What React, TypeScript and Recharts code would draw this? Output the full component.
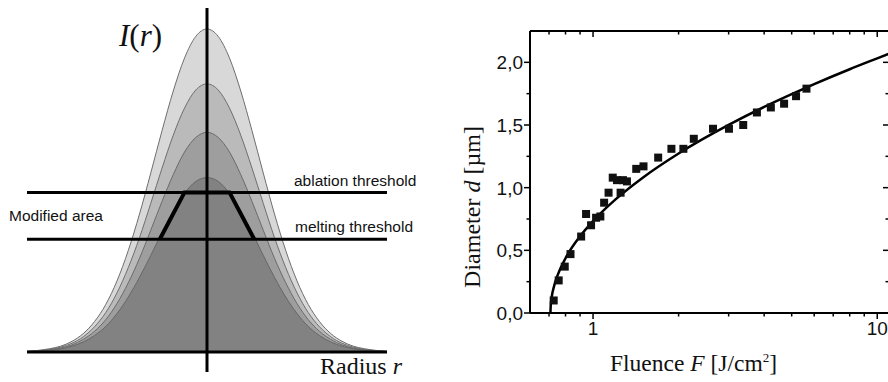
import React from 'react';
import { ComposedChart, Area, Line, Scatter, XAxis, YAxis, ReferenceLine } from 'recharts';

// left panel: Gaussian pulse profiles I(r) (peak of the largest = 1)
const radius = [
  -1.6, -1.5, -1.4, -1.3, -1.2, -1.1, -1.0, -0.9, -0.8, -0.7, -0.6, -0.5, -0.4, -0.3, -0.2, -0.1,
  0, 0.1, 0.2, 0.3, 0.4, 0.5, 0.6, 0.7, 0.8, 0.9, 1.0, 1.1, 1.2, 1.3, 1.4, 1.5, 1.6,
];
const pulse1 = [
  0.002, 0.005, 0.01, 0.018, 0.033, 0.057, 0.094, 0.147, 0.22, 0.314, 0.427, 0.554, 0.685, 0.808, 0.91, 0.977,
  1.0, 0.977, 0.91, 0.808, 0.685, 0.554, 0.427, 0.314, 0.22, 0.147, 0.094, 0.057, 0.033, 0.018, 0.01, 0.005, 0.002,
];
const pulse2 = [
  0.002, 0.004, 0.008, 0.015, 0.027, 0.047, 0.078, 0.122, 0.183, 0.261, 0.354, 0.46, 0.569, 0.671, 0.755, 0.811,
  0.83, 0.811, 0.755, 0.671, 0.569, 0.46, 0.354, 0.261, 0.183, 0.122, 0.078, 0.047, 0.027, 0.015, 0.008, 0.004, 0.002,
];
const pulse3 = [
  0.001, 0.003, 0.007, 0.012, 0.022, 0.039, 0.064, 0.1, 0.15, 0.214, 0.29, 0.377, 0.466, 0.549, 0.619, 0.664,
  0.68, 0.664, 0.619, 0.549, 0.466, 0.377, 0.29, 0.214, 0.15, 0.1, 0.064, 0.039, 0.022, 0.012, 0.007, 0.003, 0.001,
];
const pulse4 = [
  0.001, 0.003, 0.005, 0.01, 0.018, 0.031, 0.051, 0.079, 0.119, 0.17, 0.231, 0.299, 0.37, 0.436, 0.491, 0.528,
  0.54, 0.528, 0.491, 0.436, 0.37, 0.299, 0.231, 0.17, 0.119, 0.079, 0.051, 0.031, 0.018, 0.01, 0.005, 0.003, 0.001,
];
const ablationLevel = 0.494;
const meltingLevel = 0.349;
const modifiedR = [-0.42, -0.2, 0.2, 0.42];
const modifiedI = [0.349, 0.494, 0.494, 0.349];

// right panel: crater diameter vs fluence
const fluence = [
  0.727, 0.757, 0.795, 0.833, 0.908, 0.945, 0.984, 1.025, 1.061, 1.094, 1.134, 1.173, 1.214, 1.25, 1.274,
  1.316, 1.419, 1.505, 1.695, 1.887, 2.079, 2.262, 2.643, 3.008, 3.376, 3.772, 4.223, 4.702, 5.18, 5.636,
];
const diameter = [
  0.1, 0.26, 0.37, 0.47, 0.61, 0.79, 0.7, 0.76, 0.77, 0.88, 0.96, 1.08, 1.06, 0.96, 1.06,
  1.05, 1.15, 1.17, 1.24, 1.31, 1.31, 1.39, 1.47, 1.47, 1.5, 1.6, 1.64, 1.67, 1.73, 1.79,
];
const fitFluence = [0.708, 0.71, 0.715, 0.73, 0.75, 0.8, 0.9, 1.0, 1.2, 1.5, 2, 3, 4, 5, 6, 8, 10, 11];
const fitDiameter = [0, 0.066, 0.124, 0.218, 0.3, 0.437, 0.612, 0.734, 0.907, 1.082, 1.273, 1.501, 1.644, 1.746, 1.826, 1.945, 2.032, 2.069];
const fluenceTicks = [0.7, 0.8, 0.9, 1, 2, 3, 4, 5, 6, 7, 8, 9, 10];
const fluenceLabels = [1, 10];
const diameterTicks = [0, 0.25, 0.5, 0.75, 1, 1.25, 1.5, 1.75, 2];
const diameterLabels = [0, 0.5, 1, 1.5, 2];

const pulseRows = radius.map((r, i) => ({ r, p1: pulse1[i], p2: pulse2[i], p3: pulse3[i], p4: pulse4[i] }));
const modifiedRows = modifiedR.map((r, i) => ({ r, i: modifiedI[i] }));
const pointRows = fluence.map((f, i) => ({ f, d: diameter[i] }));
const fitRows = fitFluence.map((f, i) => ({ f, d: fitDiameter[i] }));

const sans = '"Liberation Sans", Arial, sans-serif';
const serif = '"Liberation Serif", "Times New Roman", serif';

function FluenceTick(props: any) {
  const { x, y, payload, showLabel } = props;
  const major = fluenceLabels.includes(payload.value);
  const len = major ? 6 : 3.5;
  return (
    <g>
      <line x1={x} x2={x} y1={y} y2={y + len} stroke="#000" strokeWidth={1.5} />
      {showLabel && major && (
        <text x={x} y={y + 22} textAnchor="middle" fontFamily={sans} fontSize={19} fill="#111">
          {payload.value}
        </text>
      )}
    </g>
  );
}

function DiameterTick(props: any) {
  const { x, y, payload, showLabel } = props;
  const major = diameterLabels.includes(payload.value);
  const len = major ? 6 : 3.5;
  return (
    <g>
      <line x1={x - len} x2={x} y1={y} y2={y} stroke="#000" strokeWidth={1.5} />
      {showLabel && major && (
        <text x={x - 7} y={y + 7} textAnchor="end" fontFamily={sans} fontSize={19} fill="#111">
          {payload.value.toFixed(1).replace('.', ',')}
        </text>
      )}
    </g>
  );
}

const Square = (props: any) => {
  const { cx, cy } = props;
  return <rect x={cx - 4} y={cy - 4} width={8} height={8} fill="#111" />;
};

const label = (style: React.CSSProperties, children: React.ReactNode) => (
  <div style={{ position: 'absolute', whiteSpace: 'nowrap', lineHeight: 1, color: '#111', ...style }}>{children}</div>
);

export default function App() {
  return (
    <div style={{ position: 'relative', width: 888, height: 382, overflow: 'hidden', background: '#fff' }}>
      <style>{'body{margin:0;overflow:hidden}'}</style>

      <div style={{ position: 'absolute', left: 0, top: 0 }}>
        <ComposedChart width={420} height={382} data={pulseRows} margin={{ top: 8, right: 33, bottom: 10, left: 27 }}>
          <XAxis type="number" dataKey="r" domain={[-1.6, 1.6]} hide />
          <YAxis type="number" domain={[-0.062, 1.065]} hide />
          <Area type="monotone" dataKey="p1" baseValue={0} fill="#d8d8d8" fillOpacity={1} stroke="#6e6e6e" strokeWidth={1} dot={false} activeDot={false} isAnimationActive={false} />
          <Area type="monotone" dataKey="p2" baseValue={0} fill="#bababa" fillOpacity={1} stroke="#6e6e6e" strokeWidth={1} dot={false} activeDot={false} isAnimationActive={false} />
          <Area type="monotone" dataKey="p3" baseValue={0} fill="#9e9e9e" fillOpacity={1} stroke="#6a6a6a" strokeWidth={1} dot={false} activeDot={false} isAnimationActive={false} />
          <Area type="monotone" dataKey="p4" baseValue={0} fill="#828282" fillOpacity={1} stroke="#666" strokeWidth={1} dot={false} activeDot={false} isAnimationActive={false} />
          <ReferenceLine y={0} stroke="#000" strokeWidth={3} />
          <ReferenceLine y={meltingLevel} stroke="#000" strokeWidth={3} />
          <ReferenceLine y={ablationLevel} stroke="#000" strokeWidth={3} />
          <ReferenceLine x={0} stroke="#000" strokeWidth={3} />
          <Line data={modifiedRows} type="linear" dataKey="i" stroke="#000" strokeWidth={4} dot={false} activeDot={false} isAnimationActive={false} />
        </ComposedChart>
      </div>

      {label({ left: 119, top: 20, fontFamily: serif, fontSize: 31 }, <><i>I</i>(<i>r</i>)</>)}
      {label({ left: 294, top: 173, fontFamily: sans, fontSize: 15.5 }, 'ablation threshold')}
      {label({ left: 295, top: 219, fontFamily: sans, fontSize: 15.5 }, 'melting threshold')}
      {label({ left: 9, top: 208, fontFamily: sans, fontSize: 15.5 }, 'Modified area')}
      {label({ left: 320, top: 354, fontFamily: serif, fontSize: 24 }, <>Radius <i>r</i></>)}

      <div style={{ position: 'absolute', left: 440, top: 0 }}>
        <ComposedChart width={459} height={382} margin={{ top: 0, right: 0, bottom: 0, left: 0 }}>
          <XAxis xAxisId="bottom" type="number" dataKey="f" scale="log" domain={[0.6, 11]} allowDataOverflow
            ticks={fluenceTicks} interval={0} height={69} tickSize={0} tickMargin={0} tickLine={false}
            axisLine={{ stroke: '#000', strokeWidth: 2 }} tick={<FluenceTick showLabel />} />
          <XAxis xAxisId="top" orientation="top" type="number" dataKey="f" scale="log" domain={[0.6, 11]} allowDataOverflow
            ticks={fluenceTicks} interval={0} height={31} tickSize={0} tickMargin={0} tickLine={false}
            axisLine={{ stroke: '#000', strokeWidth: 2 }} tick={<FluenceTick />} />
          <YAxis yAxisId="left" type="number" dataKey="d" domain={[0, 2.25]} allowDataOverflow
            ticks={diameterTicks} interval={0} width={90} tickSize={0} tickMargin={0} tickLine={false}
            axisLine={{ stroke: '#000', strokeWidth: 2 }} tick={<DiameterTick showLabel />} />
          <YAxis yAxisId="right" orientation="right" type="number" dataKey="d" domain={[0, 2.25]} allowDataOverflow
            ticks={diameterTicks} interval={0} width={10} tickSize={0} tickMargin={0} tickLine={false}
            axisLine={{ stroke: '#000', strokeWidth: 2 }} tick={<DiameterTick />} />
          <Line xAxisId="top" yAxisId="right" data={fitRows} type="monotone" dataKey="d" stroke="#000" strokeWidth={2.5} dot={false} activeDot={false} isAnimationActive={false} />
          <Scatter xAxisId="bottom" yAxisId="left" data={pointRows} dataKey="d" shape={<Square />} isAnimationActive={false} />
        </ComposedChart>
      </div>

      {label({ left: 610, top: 351, fontFamily: serif, fontSize: 23.5 }, <>Fluence <i>F</i> [J/cm<sup style={{ fontSize: 13 }}>2</sup>]</>)}
      {label({ left: 472, top: 207, fontFamily: serif, fontSize: 24, transform: 'translate(-50%, -50%) rotate(-90deg)' }, <>Diameter <i>d</i> [µm]</>)}
    </div>
  );
}
